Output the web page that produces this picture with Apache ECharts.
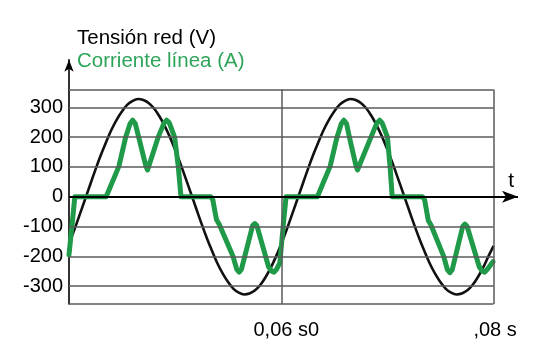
<!DOCTYPE html>
<html>
<head>
<meta charset="utf-8">
<script src="https://cdn.jsdelivr.net/npm/echarts@6/dist/echarts.min.js"></script>
<style>html,body{margin:0;padding:0;background:#fff}#c{width:534px;height:356px}</style>
</head>
<body>
<div id="c"></div>
<script>
// ---- data (time in ms, values in V / A) ----
const titleVoltage = 'Tensión red (V)';
const titleCurrent = 'Corriente línea (A)';
const axisName = 't';

const yTickValues = [-300, -200, -100, 0, 100, 200, 300];
const gridLevels = [-360, -300, -200, -100, 100, 200, 300, 360];
const xTickValues = [60, 80];
const xTickLabels = ['0,06 s0', ',08 s'];
const vLineTimes = [60, 80];

const voltageT = [40,40.5,41,41.5,42,42.5,43,43.5,44,44.5,45,45.5,46,46.5,47,47.5,48,48.5,49,49.5,
  50,50.5,51,51.5,52,52.5,53,53.5,54,54.5,55,55.5,56,56.5,57,57.5,58,58.5,59,59.5,
  60,60.5,61,61.5,62,62.5,63,63.5,64,64.5,65,65.5,66,66.5,67,67.5,68,68.5,69,69.5,
  70,70.5,71,71.5,72,72.5,73,73.5,74,74.5,75,75.5,76,76.5,77,77.5,78,78.5,79,79.5,80];
const voltageV = [-158,-111,-61,-10,41,92,140,184,225,259,287,309,322,328,325,315,297,271,239,201,
  158,111,61,10,-41,-92,-140,-184,-225,-259,-287,-309,-322,-328,-325,-315,-297,-271,-239,-201,
  -158,-111,-61,-10,41,92,140,184,225,259,287,309,322,328,325,315,297,271,239,201,
  158,111,61,10,-41,-92,-140,-184,-225,-259,-287,-309,-322,-328,-325,-315,-297,-271,-239,-201,-165];

const currentT = [40,40.3,40.55,43.5,44.7,45.34,45.75,46,46.25,46.6,47.25,47.4,47.55,48.4,48.95,49.2,49.45,49.95,50.3,50.55,
  53.35,53.55,53.75,53.9,54.15,55.45,55.8,56.03,56.25,57.3,57.5,57.7,58.8,59.1,59.3,59.55,59.86,60.2,60.45,
  63.4,64.6,65.25,65.65,65.9,66.15,66.45,67.05,67.18,67.32,68.45,69,69.27,69.5,70,70.25,70.45,
  73.3,73.5,73.7,73.85,74.1,75.3,75.65,75.88,76.1,77.1,77.3,77.5,78.65,78.95,79.15,79.4,79.94];
const currentV = [-195,-90,0,0,102,200,245,257,245,195,102,90,95,200,247,257,248,200,100,0,
  0,-10,-50,-77,-92,-200,-243,-253,-243,-97,-90,-97,-235,-250,-253,-244,-222,-90,0,
  0,102,200,245,257,245,195,102,90,95,200,247,257,248,200,100,0,
  0,-10,-50,-80,-95,-200,-245,-255,-245,-99,-92,-99,-235,-250,-253,-244,-218];

// ---- chart ----
const X_MIN = 40, X_MAX = 82.3, FRAME_END = 80, Y_MIN = -360, Y_MAX = 460, FRAME_TOP = 360;
const font = 'Liberation Sans, Arial, Helvetica, sans-serif';
const zip = (a, b) => a.map((v, i) => [v, b[i]]);

const gridLineData = gridLevels.map(v => [{coord: [X_MIN, v]}, {coord: [FRAME_END, v]}])
  .concat(vLineTimes.map(t => [{coord: [t, Y_MIN]}, {coord: [t, FRAME_TOP]}]));
const zeroLine = [
  {coord: [X_MIN, 0], symbol: 'none'},
  {coord: [X_MAX, 0], symbol: 'arrow', symbolSize: [9, 16],
   lineStyle: {color: '#000', width: 2},
   label: {show: true, formatter: axisName, position: 'insideEndTop', distance: [4, 5],
           color: '#000', fontSize: 21, fontFamily: font}}
];

const chart = echarts.init(document.getElementById('c'), null, {renderer: 'canvas'});
chart.setOption({
  animation: false,
  backgroundColor: '#fff',
  title: [
    {text: titleVoltage, left: 77, top: 28, padding: 0,
     textStyle: {fontSize: 20.5, fontWeight: 'normal', color: '#000', fontFamily: font}},
    {text: titleCurrent, left: 77, top: 51, padding: 0,
     textStyle: {fontSize: 20.5, fontWeight: 'normal', color: '#2ea55a', fontFamily: font}}
  ],
  grid: {left: 69, right: 16, top: 59.7, bottom: 52, containLabel: false},
  xAxis: {
    type: 'value', min: X_MIN, max: X_MAX,
    axisLine: {show: false}, axisTick: {show: false}, splitLine: {show: false},
    axisLabel: {
      customValues: xTickValues,
      formatter: v => {
        const i = xTickValues.indexOf(v);
        return i < 0 ? '' : '{l' + i + '|' + xTickLabels[i] + '}';
      },
      rich: {
        l0: {padding: [0, 0, 0, 10], fontSize: 20, color: '#000', fontFamily: font},
        l1: {padding: [0, 0, 0, 3], fontSize: 20, color: '#000', fontFamily: font}
      },
      margin: 16, fontSize: 20, color: '#000', fontFamily: font
    }
  },
  yAxis: {
    type: 'value', min: Y_MIN, max: Y_MAX,
    axisLine: {show: true, onZero: false, symbol: ['none', 'arrow'], symbolSize: [7, 12],
               lineStyle: {color: '#000', width: 1.6}},
    axisTick: {show: false},
    splitLine: {show: false},
    axisLabel: {customValues: yTickValues, margin: 6, fontSize: 20, color: '#000', fontFamily: font}
  },
  series: [
    {
      type: 'line', data: [], z: 1, silent: true,
      markLine: {
        silent: true, symbol: ['none', 'none'], animation: false,
        label: {show: false},
        lineStyle: {color: '#5a5a5a', width: 1.5, type: 'solid'},
        emphasis: {disabled: true},
        data: gridLineData.concat([zeroLine])
      }
    },
    {
      name: titleVoltage, type: 'line', z: 2, silent: true,
      data: zip(voltageT, voltageV), showSymbol: false, smooth: 0.3,
      lineStyle: {color: '#111', width: 2.6}
    },
    {
      name: titleCurrent, type: 'line', z: 3, silent: true,
      data: zip(currentT, currentV), showSymbol: false, smooth: false,
      lineStyle: {color: '#1f9a48', width: 5, cap: 'round', join: 'round'}
    }
  ]
});
</script>
</body>
</html>
